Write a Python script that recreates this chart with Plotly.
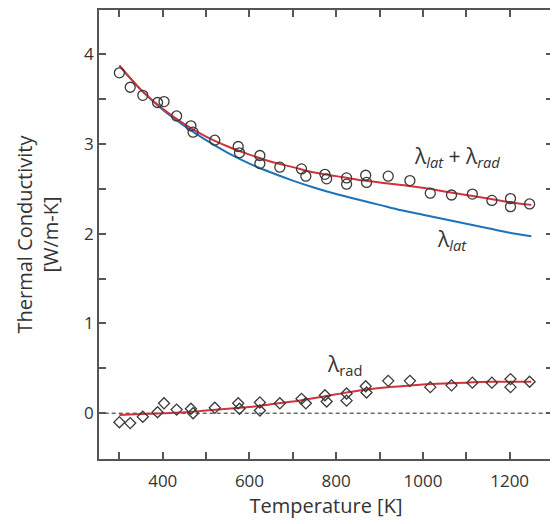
import plotly.graph_objects as go

temp_pts = [300, 325, 354, 388, 403, 432, 465, 470, 520, 574, 577, 624, 624, 670, 720, 730,
            774, 778, 824, 824, 868, 870, 920, 970, 1017, 1066, 1114, 1159, 1202, 1202, 1246]
k_total = [3.79, 3.63, 3.54, 3.46, 3.47, 3.31, 3.20, 3.13, 3.04, 2.97, 2.90, 2.87, 2.78, 2.74,
           2.72, 2.64, 2.66, 2.61, 2.62, 2.55, 2.65, 2.57, 2.64, 2.59, 2.45, 2.43, 2.44, 2.37,
           2.39, 2.30, 2.33]
k_rad = [-0.10, -0.11, -0.04, 0.01, 0.11, 0.04, 0.05, 0.00, 0.06, 0.11, 0.05, 0.12, 0.03, 0.11,
         0.16, 0.11, 0.20, 0.13, 0.22, 0.14, 0.30, 0.23, 0.36, 0.36, 0.29, 0.31, 0.34, 0.34,
         0.38, 0.29, 0.35]

# fitted curves
temp_fit = [300, 350, 400, 450, 500, 550, 600, 650, 700, 750, 800, 850, 900, 950, 1000,
            1050, 1100, 1150, 1200, 1250]
fit_total = [3.87, 3.60, 3.39, 3.22, 3.08, 2.97, 2.88, 2.80, 2.74, 2.68, 2.64, 2.60, 2.57,
             2.54, 2.51, 2.47, 2.43, 2.39, 2.35, 2.32]
fit_lat = [3.87, 3.60, 3.38, 3.20, 3.04, 2.90, 2.78, 2.68, 2.59, 2.51, 2.44, 2.38, 2.32,
           2.26, 2.21, 2.16, 2.11, 2.06, 2.01, 1.97]
fit_rad = [-0.02, -0.01, 0.00, 0.01, 0.03, 0.05, 0.07, 0.10, 0.13, 0.17, 0.21, 0.25, 0.28,
           0.30, 0.32, 0.33, 0.34, 0.35, 0.35, 0.35]

x_ticks = [300, 400, 500, 600, 700, 800, 900, 1000, 1100, 1200]
x_labels = ['', '400', '', '600', '', '800', '', '1000', '', '1200']
y_ticks = [0, 0.5, 1, 1.5, 2, 2.5, 3, 3.5, 4]
y_labels = ['0', '', '1', '', '2', '', '3', '', '4']

red = '#d2323a'
blue = '#1f72b8'
grey = '#555555'
font = 'Open Sans'

fig = go.Figure()
fig.add_trace(go.Scatter(x=[250, 1300], y=[0, 0], mode='lines',
                         line=dict(color='#222222', width=1, dash='4px,3px')))
fig.add_trace(go.Scatter(x=temp_fit, y=fit_lat, mode='lines', line_shape='spline',
                         line=dict(color=blue, width=2)))
fig.add_trace(go.Scatter(x=temp_fit, y=fit_total, mode='lines', line_shape='spline',
                         line=dict(color=red, width=2)))
fig.add_trace(go.Scatter(x=temp_fit, y=fit_rad, mode='lines', line_shape='spline',
                         line=dict(color=red, width=2)))
fig.add_trace(go.Scatter(x=temp_pts, y=k_total, mode='markers',
                         marker=dict(symbol='circle-open', size=10, color='#3a3a3a',
                                     line=dict(width=1.3))))
fig.add_trace(go.Scatter(x=temp_pts, y=k_rad, mode='markers',
                         marker=dict(symbol='diamond-open', size=8.5, color='#3a3a3a',
                                     line=dict(width=1.3))))

fig.add_annotation(x=1078, y=2.85, text='λ<sub><i>lat</i></sub> + λ<sub><i>rad</i></sub>',
                   showarrow=False, font=dict(family=font, size=21, color='#333333'))
fig.add_annotation(x=1066, y=1.93, text='λ<sub><i>lat</i></sub>',
                   showarrow=False, font=dict(family=font, size=21, color='#333333'))
fig.add_annotation(x=820, y=0.54, text='λ<sub>rad</sub>',
                   showarrow=False, font=dict(family=font, size=21, color='#333333'))

fig.update_xaxes(range=[253, 1300], tickvals=x_ticks, ticktext=x_labels,
                 ticks='inside', ticklen=7, tickwidth=1.5, tickcolor=grey,
                 showline=True, linecolor=grey, linewidth=1.5, mirror='ticks',
                 showgrid=False, zeroline=False, ticklabelstandoff=6,
                 title=dict(text='Temperature [K]', standoff=8))
fig.update_yaxes(range=[-0.51, 4.49], tickvals=y_ticks, ticktext=y_labels,
                 ticks='inside', ticklen=7, tickwidth=1.5, tickcolor=grey,
                 showline=True, linecolor=grey, linewidth=1.5, mirror='ticks',
                 showgrid=False, zeroline=False,
                 title=dict(text='Thermal Conductivity<br>[W/m-K]', standoff=20))

# the page body adds an 8px offset, so the figure is sized to fit inside the window
fig.update_layout(width=550, height=516, showlegend=False,
                  plot_bgcolor='white', paper_bgcolor='white',
                  margin=dict(l=91, r=5, t=0, b=65),
                  font=dict(family=font, size=17, color='#333333'))

fig.write_html('out.html')
